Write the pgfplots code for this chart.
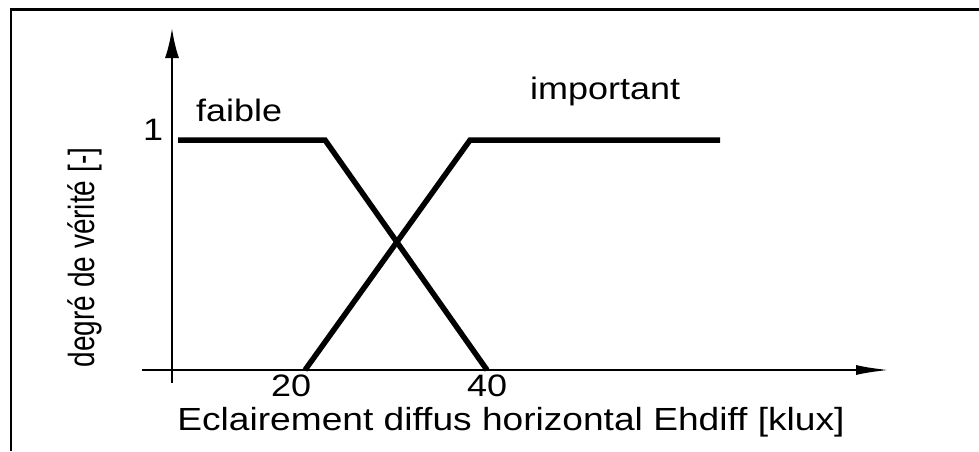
\documentclass[border=0pt]{standalone}
\usepackage{pgfplots}
\pgfplotsset{compat=1.18}
\usepackage{fontspec}
\setmainfont{Liberation Sans}[FakeStretch=1.16]
\newfontfamily\ylabfont{Liberation Sans}
\usetikzlibrary{arrows.meta}
\usepackage{graphicx}

\begin{document}
\begin{tikzpicture}[x=1pt,y=1pt]
\useasboundingbox (0,0) rectangle (979,451);
\draw[line width=3pt] (11,441) -- (979,441);
\draw[line width=2.6pt] (11,442.5) -- (11,0);
\begin{axis}[
  at={(142pt,68pt)}, anchor=south west,
  scale only axis, width=748pt, height=355pt,
  xmin=4.796, xmax=81.12, ymin=-0.0565, ymax=1.487,
  clip=false,
  axis line style={draw=none},
  major tick length=0pt,
  xtick={20,40}, ytick={1},
  /pgf/number format/assume math mode=true,
  tick label style={font=\fontsize{31}{36}\selectfont},
  xticklabel style={anchor=center, yshift=-3pt},
  yticklabel style={anchor=center, xshift=11pt, yshift=10pt},
  xlabel={Eclairement diffus horizontal Ehdiff [klux]},
  xlabel style={font=\fontsize{32}{38}\selectfont, at={(axis description cs:0.4933,-0.1099)}, anchor=center, inner sep=0pt},
  ylabel={\scalebox{1}[1.3]{degré de vérité [-]}},
  ylabel style={font=\fontsize{28}{32}\ylabfont, at={(axis description cs:-0.0769,0.3535)}, anchor=center, inner sep=0pt},
]
% axes drawn as arrows
\addplot[black, line width=2.6pt, -{Latex[length=34pt,width=10pt]}] coordinates {(4.796,0) (81.12,0)};
\addplot[black, line width=2.6pt, -{Latex[length=30pt,width=14pt]}] coordinates {(7.857,-0.0565) (7.857,1.487)};
% faible
\addplot[black, line width=5.5pt, line join=miter] coordinates {(8.47,1) (23.47,1) (40,0)};
% important
\addplot[black, line width=5.5pt, line join=miter] coordinates {(21.43,0) (38.27,1) (63.78,1)};
\node[anchor=base west, inner sep=0pt, font=\fontsize{31}{36}\selectfont] at (axis cs:10.31,1.0804) {faible};
\node[anchor=base west, inner sep=0pt, font=\fontsize{31}{36}\selectfont] at (axis cs:44.39,1.178) {important};
\end{axis}
\end{tikzpicture}
\end{document}
